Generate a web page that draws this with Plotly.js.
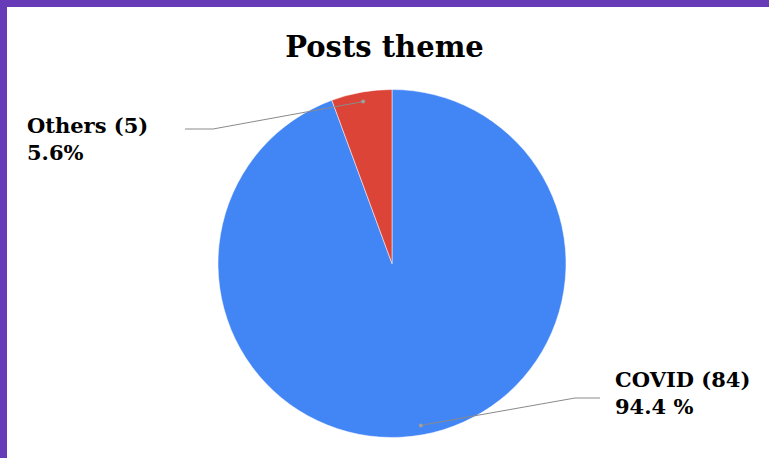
<!DOCTYPE html>
<html><head><meta charset="utf-8">
<script src="https://cdn.plot.ly/plotly-3.0.1.min.js"></script>
<style>html,body{margin:0;padding:0;background:#fff;}#chart{width:769px;height:458px;}</style>
</head><body><div id="chart"></div>
<script>
const categories = ["COVID", "Others"];
const counts = [84, 5];
const percentLabels = ["94.4 %", "5.6%"];
const colors = ["#4285F4", "#DB4437"];

const W = 769, H = 458;
const cx = 392, cy = 263.5, R = 174;
const px = x => x / W;
const py = y => 1 - y / H;
const FONT = "DejaVu Serif";

// compute slice mid angles (clockwise from 12 o'clock)
const total = counts.reduce((a, b) => a + b, 0);
let acc = 0;
const mids = counts.map(v => { const m = acc + v / 2; acc += v; return m / total * 2 * Math.PI; });
const dots = mids.map(a => [cx + 0.945 * R * Math.sin(a), cy - 0.945 * R * Math.cos(a)]);

// label layout (pixel positions of elbows and text)
const labelPos = [
  {elbow: [575, 398], end: [600, 398], tx: 613, ty: 393},
  {elbow: [213, 129], end: [185, 129], tx: 25, ty: 139}
];

const shapes = [
  {type: 'rect', xref: 'paper', yref: 'paper', x0: 0, x1: px(7), y0: 0, y1: 1, fillcolor: '#673AB7', line: {width: 0}, layer: 'above'},
  {type: 'rect', xref: 'paper', yref: 'paper', x0: 0, x1: 1, y0: py(7), y1: 1, fillcolor: '#673AB7', line: {width: 0}, layer: 'above'}
];
const annotations = [];
categories.forEach((c, i) => {
  const d = dots[i], L = labelPos[i];
  shapes.push({type: 'path', xref: 'paper', yref: 'paper',
    path: `M ${px(d[0])} ${py(d[1])} L ${px(L.elbow[0])} ${py(L.elbow[1])} L ${px(L.end[0])} ${py(L.end[1])}`,
    line: {color: '#8a8a8a', width: 1}, layer: 'above'});
  shapes.push({type: 'circle', xref: 'paper', yref: 'paper',
    x0: px(d[0] - 2), x1: px(d[0] + 2), y0: py(d[1] + 2), y1: py(d[1] - 2),
    fillcolor: '#9e9e9e', line: {width: 0}, layer: 'above'});
  annotations.push({xref: 'paper', yref: 'paper', x: px(L.tx), y: py(L.ty), xanchor: 'left', yanchor: 'middle',
    showarrow: false, align: 'left',
    text: `<b>${c} (${counts[i]})<br>${percentLabels[i]}</b>`,
    font: {family: FONT, size: 21, color: '#000'}});
});

const data = [{
  type: 'pie', labels: categories, values: counts, sort: false, direction: 'clockwise', rotation: 0,
  marker: {colors: colors, line: {color: '#ffffff', width: 0.5}},
  textinfo: 'none', hoverinfo: 'label+value+percent',
  domain: {x: [px(cx - R), px(cx + R)], y: [py(cy + R), py(cy - R)]}
}];

const layout = {
  width: W, height: H, margin: {l: 0, r: 0, t: 0, b: 0},
  paper_bgcolor: '#ffffff', showlegend: false,
  title: {text: '<b>Posts theme</b>', x: 0.5, xanchor: 'center', y: py(47), yanchor: 'middle',
    font: {family: FONT, size: 29, color: '#000'}},
  shapes: shapes, annotations: annotations
};
Plotly.newPlot('chart', data, layout, {displayModeBar: false, staticPlot: true});
</script></body></html>
